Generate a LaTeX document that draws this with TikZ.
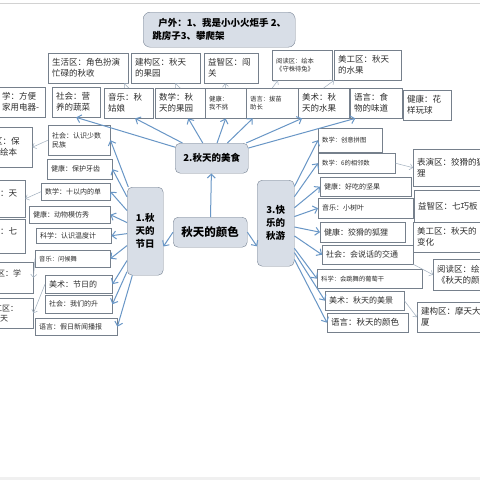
\documentclass[tikz,border=0pt]{standalone}
\usepackage{fontspec}
\newfontfamily\cjk{Noto Sans CJK SC}
\usetikzlibrary{arrows.meta}
\definecolor{linkblue}{RGB}{104,150,198}
\definecolor{cellline}{RGB}{118,128,140}
\definecolor{hubfill}{RGB}{216,222,231}
\definecolor{hubline}{RGB}{120,132,148}
\definecolor{subgray}{RGB}{160,175,190}
\definecolor{inkgray}{RGB}{45,45,45}

\begin{document}
\begin{tikzpicture}[x=1pt, y=-1pt,
    cell/.style={draw=cellline, fill=white, anchor=north west, align=left, inner xsep=4pt,
                 inner ysep=1pt, text=inkgray, font=\cjk\fontsize{8.5}{11}\selectfont},
    wh/.style 2 args={text width=#1, minimum height=#2},
    mid/.style={font=\cjk\fontsize{8}{10}\selectfont},
    sm/.style={font=\cjk\fontsize{7}{9}\selectfont},
    xs/.style={font=\cjk\fontsize{6.3}{8.5}\selectfont},
    hub/.style={draw=hubline, fill=hubfill, rounded corners=5pt, anchor=north west, align=center,
                inner sep=2pt, text=black, font=\cjk\bfseries\fontsize{9.5}{13}\selectfont},
    link/.style={draw=linkblue, line width=1pt, -{Straight Barb[length=4pt, width=8pt]}},
    sublink/.style={draw=subgray, line width=0.5pt, -{Straight Barb[length=3pt, width=6pt]}}
]
    \useasboundingbox (0,0) rectangle (480,480);
    \clip (0,0) rectangle (480,480);
    \fill[white] (0,0) rectangle (480,480);
    \draw[gray!35] (0,3) -- (480,3);
    \fill[gray!12] (0,477) rectangle (480,480);

    % Outdoor
    \node[hub, minimum width=152pt, minimum height=35pt, align=left, rounded corners=7pt] (outdoor) at (143,12)
        {\hspace*{6pt}户外：1、我是小小火炬手 2、\\跳房子3、攀爬架};

    % Top rows
    \node[cell, wh={72pt}{30pt}] (shq) at (48,53) {生活区：角色扮演\\忙碌的秋收};
    \node[cell, wh={61pt}{30pt}] (jgq) at (131,53) {建构区：秋天\\的果园};
    \node[cell, wh={46pt}{30pt}] (yzq) at (204,53) {益智区：闯\\关};
    \node[cell, xs, wh={52pt}{30pt}] (ydq) at (272,50) {阅读区：绘本\\《守株待兔》};
    \node[cell, wh={59pt}{30pt}] (mgq) at (334,50) {美工区：秋天\\的水果};

    \node[cell, wh={39pt}{30pt}] (sxjd) at (-2,87) {学：方便\\家用电器-};
    \node[cell, wh={40pt}{30pt}] (shyy) at (52,87) {社会：营\\养的蔬菜};
    \node[cell, wh={41pt}{30pt}] (ylqgn) at (104,88) {音乐：秋\\姑娘};
    \node[cell, wh={42pt}{30pt}] (sxgy) at (155,88) {数学：秋\\天的果园};
    \node[cell, xs, wh={33pt}{30pt}] (jkbt) at (205,88) {健康：\\我不挑};
    \node[cell, xs, wh={44pt}{30pt}] (yybm) at (246,88) {语言：拔苗\\助长};
    \node[cell, wh={43pt}{30pt}] (mssg) at (298,88) {美术：秋\\天的水果};
    \node[cell, wh={44pt}{30pt}] (yysw) at (350,88) {语言：食\\物的味道};
    \node[cell, wh={40pt}{30pt}] (jkhy) at (403,90) {健康：花\\样玩球};

    % Hubs
    \node[hub, minimum width=36pt, minimum height=88pt] (c1) at (127,187) {1.秋\\天的\\节日};
    \node[hub, minimum width=73pt, minimum height=30pt] (c2) at (175,143) {2.秋天的美食};
    \node[hub, minimum width=74pt, minimum height=30pt, font=\cjk\bfseries\fontsize{11.5}{14}\selectfont] (c0) at (173,217) {秋天的颜色};
    \node[hub, minimum width=37pt, minimum height=86pt] (c3) at (257,180) {3.快\\乐的\\秋游};

    % Left side
    \node[cell, wh={34pt}{40pt}] (lbh) at (-10,127) {区：保\\\hspace*{6pt}绘本};
    \node[cell, sm, wh={54pt}{30pt}] (lsm) at (48,125) {社会：认识少数\\民族};
    \node[cell, sm, wh={57pt}{20pt}] (lyc) at (47,159) {健康：保护牙齿};
    \node[cell, wh={21pt}{37pt}] (ltian) at (-4,180) {：天\\\mbox{}};
    \node[cell, sm, wh={61pt}{17pt}] (lsx) at (41,183) {数学：十以内的单};
    \node[cell, sm, wh={73pt}{17pt}] (ldw) at (29,206) {健康：动物模仿秀};
    \node[cell, wh={21pt}{34pt}] (lqi) at (-4,219) {：七\\\mbox{}};
    \node[cell, sm, wh={67pt}{15pt}] (lkx) at (36,228) {科学：认识温度计};
    \node[cell, xs, wh={67pt}{17pt}] (lyl) at (35,250) {音乐：问候舞};
    \node[cell, mid, wh={32pt}{31pt}] (lxue) at (-7,262) {区：学\\\mbox{}};
    \node[cell, mid, wh={59pt}{18pt}] (lms) at (45,275) {美术：节日的};
    \node[cell, sm, wh={59pt}{18pt}] (lsh) at (45,295) {社会：我们的升};
    \node[cell, mid, wh={35pt}{30pt}] (lgq) at (-10,298) {工区：\\\hspace*{6pt}天};
    \node[cell, sm, wh={74pt}{17pt}] (lyy) at (35,318) {语言：假日新闻播报};

    % Right side
    \node[cell, xs, wh={56pt}{24pt}] (rcy) at (318,128) {数学：创意拼图};
    \node[cell, xs, wh={69pt}{20pt}] (rxl) at (318,153) {数学：6的相邻数};
    \node[cell, wh={72pt}{37pt}] (rby) at (413,149) {表演区：狡猾的狐\\狸};
    \node[cell, sm, wh={83pt}{19pt}] (rjg) at (320,177) {健康：好吃的坚果};
    \node[cell, sm, wh={87pt}{20pt}] (rsy) at (318,198) {音乐：小树叶};
    \node[cell, wh={72pt}{32pt}] (ryz) at (414,190) {益智区：七巧板};
    \node[cell, mid, wh={77pt}{20pt}] (rhl) at (320,222) {健康：狡猾的狐狸};
    \node[cell, wh={72pt}{30pt}] (rbh) at (413,222) {美工区：秋天的\\变化};
    \node[cell, mid, wh={83pt}{19pt}] (rjt) at (322,245) {社会：会说话的交通};
    \node[cell, xs, wh={97pt}{19pt}] (rpt) at (317,269) {科学：会跳舞的葡萄干};
    \node[cell, wh={52pt}{31pt}] (ryd) at (433,259) {阅读区：绘\\《秋天的颜};
    \node[cell, mid, wh={71pt}{19pt}] (rmj) at (325,291) {美术：秋天的美景};
    \node[cell, wh={73pt}{19pt}] (ryy) at (327,313) {语言：秋天的颜色};
    \node[cell, wh={62pt}{30pt}] (rmt) at (417,302) {建构区：摩天大\\厦};

    % Connections
    \draw[link] (c0) -- (c2);
    \draw[link] (c0.west) -- (c1.-40);
    \draw[link] (c0.east) -- (c3.231);
    \foreach \t in {shyy.south, ylqgn.-67, sxgy.-62, jkbt.south, yybm.-142, mssg.-145, yysw.-144}
        \draw[link] (c2) -- (\t);
    \foreach \t in {lsm, lyc, lsx, ldw, lkx, lyl, lms, lsh, lyy}
        \draw[link] (c1) -- (\t.east);
    \foreach \t in {rcy, rxl, rjg, rsy, rhl, rjt, rpt, rmj, ryy}
        \draw[link] (c3) -- (\t.west);

    % Side links
    \draw[sublink] (ylqgn.north) -- (shq.-23);
    \draw[sublink] (sxgy.north) -- (jgq.-58);
    \draw[sublink] (jkbt.north) -- (yzq.-112);
    \draw[sublink] (yybm.north) -- (ydq.-148);
    \draw[sublink] (mssg.north) -- (mgq.south west);
    \draw[sublink] (lsm.west) -- (lbh.east);
    \draw[sublink] (lsx.west) -- (ltian.east);
    \draw[sublink] (lyl.west) -- (lxue.east);
    \draw[sublink] (lms.west) -- (lgq.east);
    \draw[sublink] (rxl.east) -- (rby.west);
    \draw[sublink] (rjt.south east) -- (ryd.west);
    \draw[sublink] (rmj.east) -- (rmt.west);
\end{tikzpicture}
\end{document}
